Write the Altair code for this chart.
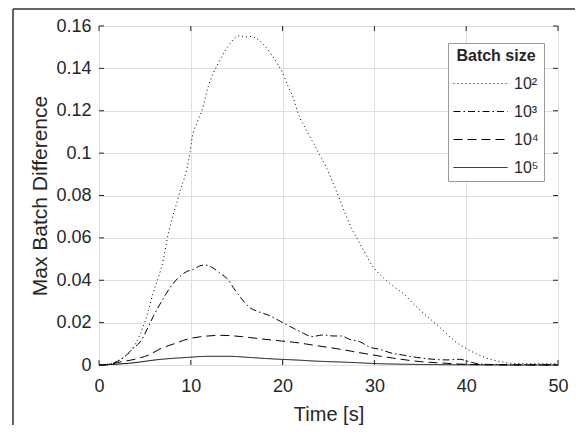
import altair as alt
import pandas as pd

# ---- data ----
series_names = ["10²", "10³", "10⁴", "10⁵"]

t_1e2 = [0, 1.4, 2.5, 3.4, 4.1, 4.8, 5.4, 5.9, 6.5, 7.0, 7.45, 8.7, 9.9, 10.1, 10.8, 11.2,
         11.9, 12.45, 13.0, 13.7, 14.45, 15.0, 15.4, 15.9, 16.6, 17.35, 18.1, 18.8, 19.5,
         20.0, 20.6, 21.3, 21.6, 22.7, 23.9, 24.8, 25.5, 26.1, 26.8, 27.5, 28.2, 29.0,
         29.7, 30.2, 31.0, 32.1, 33.1, 34.2, 35.2, 36.4, 37.7, 38.6, 39.5, 40.4, 41.4,
         42.6, 43.7, 45.1, 47.5, 50]
v_1e2 = [0, 0.0008, 0.0032, 0.0063, 0.011, 0.018, 0.026, 0.034, 0.0417, 0.0496, 0.06,
         0.08, 0.1, 0.106, 0.1157, 0.12, 0.1315, 0.1378, 0.1425, 0.148, 0.1527, 0.155,
         0.1554, 0.1548, 0.155, 0.1535, 0.1504, 0.1464, 0.1417, 0.1378, 0.1315, 0.1244,
         0.12, 0.11, 0.1003, 0.0929, 0.0858, 0.0795, 0.0717, 0.0646, 0.059, 0.0528,
         0.0472, 0.0445, 0.041, 0.037, 0.0339, 0.0291, 0.025, 0.0205, 0.0155, 0.0118,
         0.009, 0.0068, 0.0047, 0.0027, 0.0016, 0.0008, 0.0006, 0.0006]

t_1e3 = [0, 0.4, 1.7, 2.8, 3.7, 4.5, 5.2, 5.9, 6.8, 7.7, 8.6, 9.55, 10.3, 11.0, 11.55,
         12.3, 13.2, 14.1, 14.8, 15.5, 16.3, 17.35, 18.4, 19.8, 21.2, 22.25, 23.2, 24.4,
         25.5, 26.4, 27.3, 28.4, 29.5, 30.6, 31.7, 33.1, 34.6, 36.4, 37.9, 39.3, 40.0,
         40.8, 41.4, 42.2, 45, 50]
v_1e3 = [0, 0, 0.0011, 0.0039, 0.0079, 0.011, 0.0165, 0.0228, 0.0299, 0.0362, 0.041,
         0.0441, 0.0452, 0.0468, 0.0472, 0.0461, 0.0433, 0.0401, 0.0354, 0.0315, 0.0275,
         0.0252, 0.0236, 0.0205, 0.0173, 0.015, 0.0134, 0.0142, 0.0137, 0.0137, 0.0121,
         0.011, 0.0084, 0.0074, 0.0058, 0.0047, 0.0036, 0.0027, 0.0024, 0.0027, 0.002,
         0.001, 0.0005, 0.0003, 0.0001, 0.0001]

t_1e4 = [0, 0.6, 2.5, 3.9, 5.4, 6.8, 8.3, 9.7, 11.2, 13.4, 15.5, 17.7, 19.9, 21.3, 23.3,
         26.3, 29.2, 32.1, 35.0, 37.9, 40.0, 43, 50]
v_1e4 = [0, 0, 0.0016, 0.0027, 0.0047, 0.0079, 0.0102, 0.0123, 0.0134, 0.014, 0.0134,
         0.0123, 0.0113, 0.0107, 0.0094, 0.0074, 0.0052, 0.0032, 0.0016, 0.0008, 0.0003,
         0.0001, 0]

t_1e5 = [0, 3.2, 6.8, 9.7, 11.9, 14.1, 16.3, 18.4, 19.7, 21.3, 23.3, 27.0, 30.6, 34.2,
         40, 50]
v_1e5 = [0, 0.0008, 0.0027, 0.0036, 0.0041, 0.0041, 0.0036, 0.003, 0.0027, 0.0024,
         0.0019, 0.0013, 0.0006, 0.0003, 0.0001, 0]

x_ticks = [0, 10, 20, 30, 40, 50]
y_ticks = [0, 0.02, 0.04, 0.06, 0.08, 0.1, 0.12, 0.14, 0.16]

# ---- styling ----
dash_patterns = [[1, 3], [7, 3, 1.5, 3], [9, 5], [1, 0]]
W, H = 459, 339
PAD = {"left": 91, "top": 18, "right": 17, "bottom": 60}
FONT = "Liberation Sans"
AX = "#262626"
TICK = 5

rows = []
for name, ts, vs in zip(series_names, [t_1e2, t_1e3, t_1e4, t_1e5],
                        [v_1e2, v_1e3, v_1e4, v_1e5]):
    for t, v in zip(ts, vs):
        rows.append({"series": name, "t": t, "v": v})
df = pd.DataFrame(rows)

xscale = alt.Scale(domain=[0, 50], nice=False, zero=False)
yscale = alt.Scale(domain=[0, 0.16], nice=False)
xaxis = alt.Axis(values=x_ticks, title="Time [s]", labelPadding=12,
                 titlePadding=9, labelFlush=False, format="d")
yaxis = alt.Axis(values=y_ticks, format="~g", title="Max Batch Difference",
                 titleFontSize=21, labelPadding=8, titlePadding=5)
xs = alt.X("t:Q", scale=xscale, axis=xaxis)
ys = alt.Y("v:Q", scale=yscale, axis=yaxis)

lines = alt.Chart(df).mark_line(color="black", strokeWidth=1, interpolate="monotone").encode(
    x=xs,
    y=ys,
    strokeDash=alt.StrokeDash(
        "series:N",
        scale=alt.Scale(domain=series_names, range=dash_patterns),
        legend=alt.Legend(
            orient="none", legendX=349, legendY=17, title="Batch size",
            titleFont=FONT, titleFontSize=16, titleFontWeight="bold", titleColor=AX,
            titleAnchor="middle", titlePadding=10,
            labelFont=FONT, labelFontSize=16, labelColor=AX, labelOffset=6,
            symbolType="M-5,0H1", symbolSize=324, symbolStrokeWidth=1,
            symbolOffset=36,
            symbolStrokeColor="black", strokeColor="#9a9a9a", fillColor="white",
            padding=5, rowPadding=10,
        ),
    ),
)

xt = pd.DataFrame({"t": x_ticks})
yt = pd.DataFrame({"v": y_ticks})

tick_b = alt.Chart(xt).mark_rule(color=AX, strokeWidth=1).encode(
    x=xs, y=alt.value(H), y2=alt.value(H - TICK))
tick_t = alt.Chart(xt).mark_rule(color=AX, strokeWidth=1).encode(
    x=xs, y=alt.value(0), y2=alt.value(TICK))
tick_l = alt.Chart(yt).mark_rule(color=AX, strokeWidth=1).encode(
    y=ys, x=alt.value(0), x2=alt.value(TICK))
tick_r = alt.Chart(yt).mark_rule(color=AX, strokeWidth=1).encode(
    y=ys, x=alt.value(W), x2=alt.value(W - TICK))

# decorative figure frame (only its top and left edges are inside the picture)
one = pd.DataFrame({"k": [0]})
frame_left = alt.Chart(one).mark_rule(color="#333333", strokeWidth=1.5).encode(
    x=alt.value(-86), y=alt.value(-17), y2=alt.value(H + PAD["bottom"]))
frame_top = alt.Chart(one).mark_rule(color="#333333", strokeWidth=1.5).encode(
    y=alt.value(-17), x=alt.value(-86), x2=alt.value(W + PAD["right"]))

chart = alt.layer(frame_left, frame_top, lines, tick_b, tick_t, tick_l, tick_r).properties(
    width=W, height=H,
    autosize=alt.AutoSizeParams(type="none"),
    padding=PAD,
    background="white",
).configure_view(
    stroke=AX, strokeWidth=1
).configure_axis(
    domain=False, ticks=False, grid=True, gridColor="#dfdfdf", gridWidth=1,
    labelFont=FONT, labelFontSize=18, labelColor=AX,
    titleFont=FONT, titleFontSize=20, titleColor=AX, titleFontWeight="normal",
)

chart.save("out.html", embed_options={"renderer": "svg", "actions": False})
